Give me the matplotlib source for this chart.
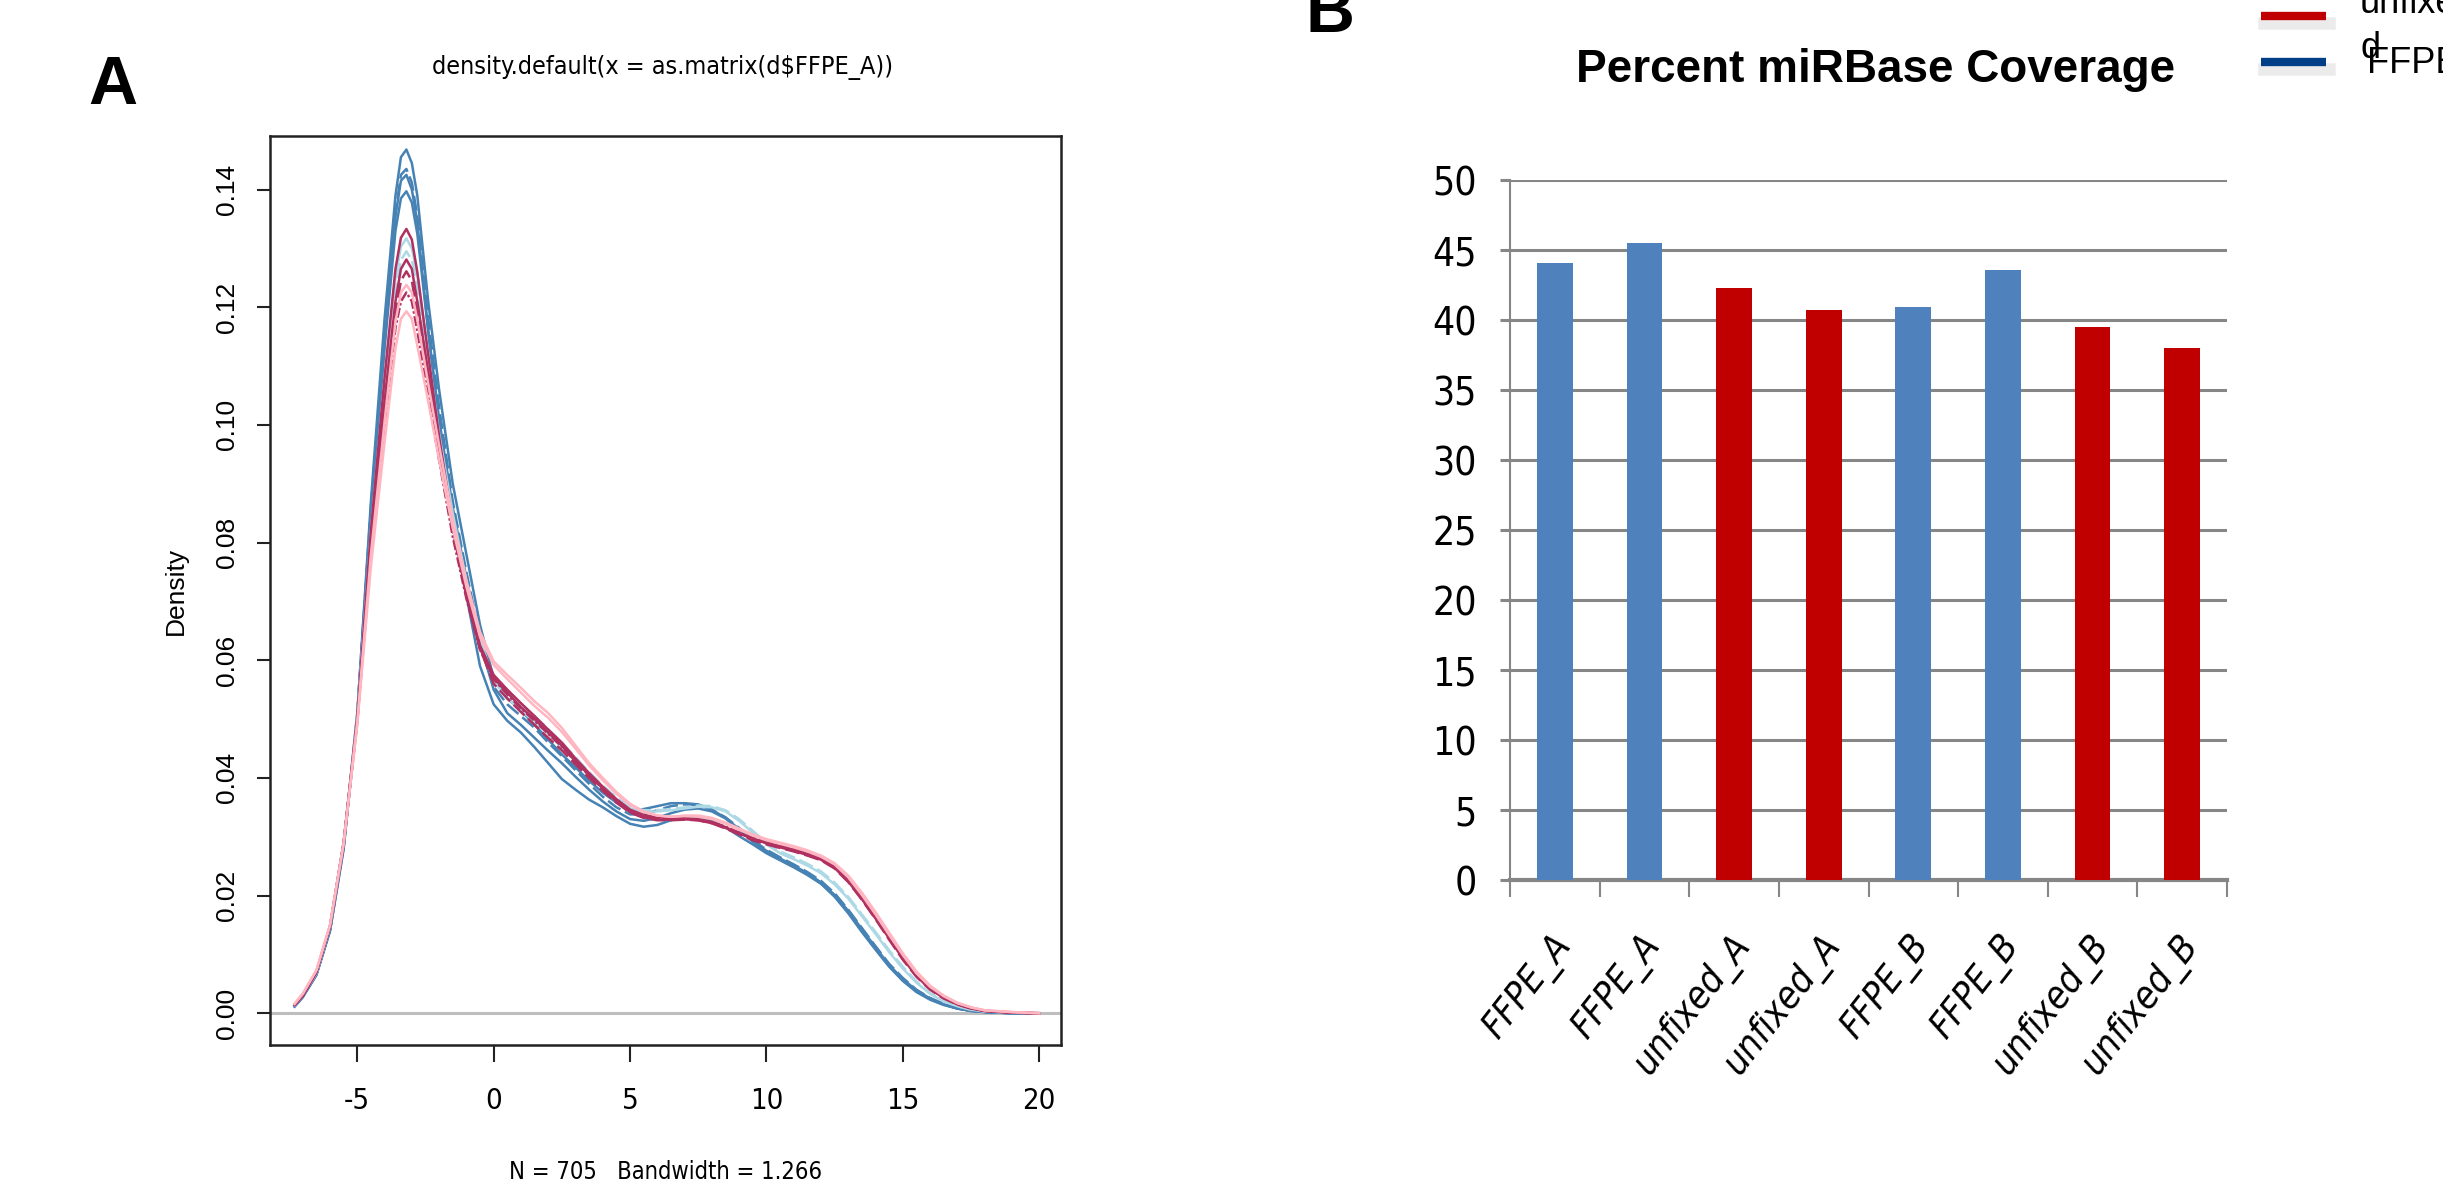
import matplotlib
matplotlib.use('Agg')
import matplotlib.pyplot as plt
from matplotlib.lines import Line2D
from matplotlib.transforms import ScaledTranslation

W, H = 2443, 1190
NARROW = ['DejaVu Sans']
SANS = ['Liberation Sans', 'DejaVu Sans']

# ---- panel A: density curves ----
dens_x = [-7.3, -7.0, -6.5, -6.0, -5.5, -5.0, -4.5, -4.0,
          -3.6, -3.4, -3.2, -3.0, -2.8,
          -2.4, -2.0, -1.5, -1.0, -0.5, 0.0,
          0.5, 1.0, 1.5, 2.0, 2.5, 3.0, 3.5, 4.0, 4.5, 5.0,
          5.5, 6.0, 6.5, 7.0, 7.5, 8.0, 8.5, 9.0, 9.5, 10.0,
          10.5, 11.0, 11.5, 12.0, 12.5, 13.0, 13.5, 14.0, 14.5, 15.0,
          15.5, 16.0, 16.5, 17.0, 17.5, 18.0, 19.0, 20.0]

blue_1 = [.0012, .0028, .0065, .014, .028, .051, .087, .118,
          .139, .1455, .1468, .1445, .139,
          .121, .106, .090, .078, .066, .057,
          .0535, .0515, .049, .0465, .044, .0418, .0395, .0375, .0358, .0345,
          .0347, .0352, .0357, .0357, .0355, .0346, .0332, .0312, .0292, .0276,
          .0263, .0251, .0238, .0222, .0200, .0172, .0140, .0110, .0081, .0057,
          .0038, .0024, .0015, .0008, .0004, .0002, .0, .0]
blue_2 = [.0012, .0028, .0066, .0142, .0285, .051, .086, .115,
          .136, .1425, .1435, .1412, .1355,
          .118, .103, .087, .075, .064, .0555,
          .0525, .0505, .0485, .046, .0437, .0413, .039, .0368, .035, .0338,
          .0338, .0345, .0352, .0355, .0354, .0346, .0333, .0315, .0294, .0278,
          .0265, .0253, .024, .0225, .0204, .0176, .0145, .0114, .0084, .006,
          .004, .0026, .0016, .0009, .0005, .0002, .0, .0]
blue_3 = [.0011, .0027, .0065, .014, .028, .0505, .085, .114,
          .1355, .1415, .1425, .140, .1345,
          .116, .100, .084, .071, .059, .0525,
          .0497, .0477, .0452, .0425, .0398, .0380, .0363, .035, .0335, .0322,
          .0317, .0320, .0328, .0334, .0334, .0327, .0316, .0301, .0287, .0272,
          .0260, .0248, .0235, .0220, .0198, .0170, .0138, .0108, .0079, .0055,
          .0036, .0023, .0014, .0008, .0004, .0002, .0, .0]
blue_4 = [.0012, .0028, .0066, .0143, .0285, .0505, .085, .113,
          .133, .1385, .1397, .1378, .1325,
          .116, .101, .086, .074, .063, .055,
          .051, .049, .0468, .0446, .0425, .0402, .038, .036, .0343, .0330,
          .0327, .0332, .0340, .0346, .0348, .0343, .0331, .0313, .0292, .0275,
          .0262, .025, .0237, .0222, .0201, .0174, .0143, .0112, .0082, .0058,
          .0039, .0025, .0015, .0008, .0004, .0002, .0, .0]
light_1 = [.0013, .003, .0068, .0146, .029, .0505, .082, .108,
           .125, .1303, .1317, .130, .1255,
           .112, .0985, .085, .0735, .0635, .0565,
           .0535, .0515, .0495, .0475, .0452, .0428, .0405, .0383, .0363, .0348,
           .0342, .0343, .0345, .0348, .0351, .0350, .0343, .0327, .0307, .0287,
           .0272, .0262, .0251, .0238, .0219, .0195, .0165, .0135, .0104, .0076,
           .0052, .0033, .002, .0012, .0006, .0003, .0001, .0]
light_2 = [.0013, .003, .0068, .0146, .029, .0502, .081, .106,
           .1225, .128, .1295, .128, .1235,
           .110, .097, .084, .0725, .0628, .057,
           .0545, .0525, .0505, .0483, .046, .0435, .041, .0387, .0367, .0351,
           .0345, .0345, .0347, .035, .0353, .0352, .0345, .033, .031, .029,
           .0275, .0265, .0254, .0241, .0222, .0198, .0168, .0138, .0107, .0079,
           .0054, .0034, .0021, .0012, .0006, .0003, .0001, .0]
red_1 = [.0014, .003, .007, .0148, .029, .050, .082, .108,
         .1265, .1318, .1333, .1315, .126,
         .112, .098, .083, .071, .062, .057,
         .0545, .052, .050, .0477, .0455, .0428, .0405, .0382, .036, .0342,
         .0333, .0329, .0329, .0330, .0328, .0323, .0315, .0306, .0296, .0289,
         .0282, .0276, .0269, .0261, .0247, .0224, .0194, .0161, .0127, .0093,
         .0063, .0041, .0026, .0015, .0008, .0004, .0001, .0]
red_2 = [.0014, .003, .007, .0148, .029, .050, .080, .104,
         .121, .1265, .1281, .1265, .121,
         .109, .097, .083, .0715, .0625, .0575,
         .055, .0527, .0505, .0482, .046, .0433, .0408, .0385, .0364, .0346,
         .0337, .0333, .0332, .0332, .0330, .0325, .0316, .0306, .0297, .0290,
         .0284, .0278, .0271, .0263, .025, .0228, .0198, .0165, .0130, .0096,
         .0065, .0042, .0027, .0016, .0009, .0004, .0001, .0]
red_3 = [.0014, .003, .007, .0147, .0288, .0498, .079, .1025,
         .119, .1245, .1261, .1245, .119,
         .107, .0955, .082, .071, .062, .056,
         .0535, .0512, .049, .0468, .0447, .0423, .040, .0378, .0358, .0341,
         .0332, .0328, .0328, .0329, .0328, .0323, .0314, .0304, .0294, .0287,
         .0281, .0275, .0268, .026, .0246, .0223, .0193, .016, .0125, .0091,
         .0062, .004, .0025, .0015, .0008, .0004, .0001, .0]
red_4 = [.0014, .003, .007, .0147, .0287, .0495, .078, .100,
         .1165, .121, .1225, .121, .116,
         .105, .094, .081, .0705, .0618, .0568,
         .0542, .0518, .0497, .0475, .0453, .0428, .0404, .0382, .0362, .0345,
         .0336, .0331, .033, .033, .0329, .0325, .0317, .0307, .0298, .0291,
         .0285, .0279, .0272, .0264, .0251, .0229, .0199, .0166, .0131, .0097,
         .0066, .0043, .0027, .0016, .0009, .0004, .0001, .0]
pink_1 = [.0016, .0033, .0073, .015, .029, .0495, .078, .1005,
          .1175, .1225, .1238, .1225, .1178,
          .107, .0965, .084, .0735, .0648, .0598,
          .0575, .0553, .053, .051, .0485, .0455, .0425, .040, .0376, .0356,
          .0343, .0336, .0334, .0335, .0334, .033, .0322, .0312, .0302, .0294,
          .0288, .0282, .0275, .0266, .0253, .0231, .0201, .0168, .0133, .0099,
          .0068, .0045, .0029, .0017, .0010, .0005, .0002, .0]
pink_2 = [.0016, .0033, .0073, .015, .0288, .049, .076, .097,
          .113, .118, .1193, .118, .1135,
          .104, .094, .0825, .0725, .064, .0592,
          .0568, .0545, .0522, .0502, .0478, .0450, .0421, .0396, .0373, .0354,
          .0342, .0336, .0334, .0336, .0336, .0332, .0324, .0314, .0304, .0296,
          .0290, .0284, .0277, .0268, .0255, .0234, .0205, .0172, .0137, .0102,
          .0071, .0047, .003, .0018, .0010, .0005, .0002, .0]

density_title = 'density.default(x = as.matrix(d$FFPE_A))'
density_xlabel = 'N = 705   Bandwidth = 1.266'

# ---- panel B: bar values ----
samples = ['FFPE_A', 'FFPE_A', 'unfixed_A', 'unfixed_A',
           'FFPE_B', 'FFPE_B', 'unfixed_B', 'unfixed_B']
sample_type = ['FFPE', 'FFPE', 'unfixed', 'unfixed',
               'FFPE', 'FFPE', 'unfixed', 'unfixed']
coverage = [44.1, 45.5, 42.3, 40.7, 40.9, 43.55, 39.5, 38.0]

fig = plt.figure(figsize=(W / 100, H / 100), dpi=100)

# panel A
axA = fig.add_axes([270 / W, 1 - 1045 / H, (1061 - 270) / W, (1045 - 136) / H])
axA.axhline(0, color='#BEBEBE', lw=2.2, zorder=0)
curves = [(blue_1, '#4682B4', '-'), (blue_2, '#4682B4', (0, (6, 2))),
          (blue_3, '#4682B4', '-'), (blue_4, '#4682B4', '-'),
          (light_1, '#ADD8E6', '-'), (light_2, '#ADD8E6', (0, (6, 2))),
          (red_1, '#B03060', '-'), (red_2, '#B03060', '-'),
          (red_3, '#B03060', (0, (6, 2))), (red_4, '#B03060', (0, (4, 1, 1, 1))),
          (pink_1, '#FFB6C1', '-'), (pink_2, '#FFB6C1', '-')]
for ys, col, ls in curves:
    axA.plot(dens_x, ys, color=col, lw=1.8, ls=ls)

axA.set_xlim(-8.2, 20.8)
axA.set_ylim(-0.0054, 0.1491)
axA.set_xticks([-5, 0, 5, 10, 15, 20], ['-5', '0', '5', '10', '15', '20'],
               fontsize=21, family=NARROW, stretch='condensed')
yt = [0, 0.02, 0.04, 0.06, 0.08, 0.10, 0.12, 0.14]
axA.set_yticks(yt, ['%.2f' % v for v in yt], fontsize=19, family=SANS,
               rotation=90, va='center')
axA.tick_params(axis='x', length=12, width=1.5, color='#222222', pad=18)
axA.tick_params(axis='y', length=9.5, width=1.5, color='#222222', pad=13)
for s in axA.spines.values():
    s.set_color('#222222')
    s.set_linewidth(1.8)
axA.set_xlabel(density_xlabel, fontsize=17, family=NARROW, stretch='condensed',
               va='center')
axA.xaxis.set_label_coords(0.5, (1045 - 1172) / 909)
axA.set_ylabel('Density', fontsize=19, family=SANS, va='center')
axA.yaxis.set_label_coords((176 - 270) / 791, 0.5)
fig.text(663 / W, 1 - 74 / H, density_title, ha='center', va='baseline',
         fontsize=18, family=NARROW, stretch='condensed')
fig.text(88 / W, 1 - 104 / H, 'A', fontsize=49, weight='bold', family=SANS,
         va='baseline')

# panel B
axB = fig.add_axes([1510 / W, 1 - 880 / H, (2227 - 1510) / W, (880 - 180) / H])
colors = {'FFPE': '#4F81BD', 'unfixed': '#C00000'}
axB.bar(range(len(samples)), coverage, width=0.4,
        color=[colors[t] for t in sample_type], zorder=3)
axB.set_xlim(-0.5, 7.5)
axB.set_ylim(0, 50)
axB.set_yticks(range(0, 51, 5), [str(v) for v in range(0, 51, 5)],
               fontsize=28, family=NARROW, stretch='condensed')
axB.yaxis.grid(True, color='#868686', lw=2.2)
axB.set_axisbelow(True)
axB.set_xticks([i - 0.5 for i in range(9)], [''] * 9)
axB.set_xticks(range(len(samples)), samples, minor=True, fontsize=27,
               family=NARROW, stretch='condensed', style='italic', rotation=52,
               ha='right', va='center', rotation_mode='anchor')
axB.tick_params(axis='x', which='major', length=12, width=1.5, color='#868686')
axB.tick_params(axis='x', which='minor', length=0, pad=43)
axB.tick_params(axis='y', length=7, width=2.2, color='#868686', pad=17)
shift = ScaledTranslation(10 / 100, 0, fig.dpi_scale_trans)
for lab in axB.get_xticklabels(minor=True):
    lab.set_transform(lab.get_transform() + shift)
for side in ['top', 'right']:
    axB.spines[side].set_visible(False)
axB.spines['left'].set_color('#868686')
axB.spines['left'].set_linewidth(1.5)
axB.spines['bottom'].set_color('#868686')
axB.spines['bottom'].set_linewidth(3)

fig.text(1876 / W, 1 - 82 / H, 'Percent miRBase Coverage', ha='center',
         va='baseline', fontsize=33, weight='bold', family=SANS)
fig.text(1305 / W, 1 - 32 / H, 'B', fontsize=49, weight='bold', family=SANS,
         va='baseline')

# legend (cut off at the right edge, as in the original)
for yy, col in [(16, '#C00000'), (62, '#003F87')]:
    fig.add_artist(Line2D([2264 / W, 2329 / W], [1 - (yy + 7) / H] * 2,
                          color='black', alpha=0.08, lw=9))
    fig.add_artist(Line2D([2261 / W, 2326 / W], [1 - yy / H] * 2,
                          color=col, lw=6, solid_capstyle='butt'))
fig.text(2360 / W, 1 - 13 / H, 'unfixe', fontsize=26, family=SANS, va='baseline')
fig.text(2360 / W, 1 - 58 / H, 'd', fontsize=26, family=SANS, va='baseline')
fig.text(2367 / W, 1 - 73 / H, 'FFPE', fontsize=26, family=SANS, va='baseline')

fig.savefig('out.png', dpi=100)
